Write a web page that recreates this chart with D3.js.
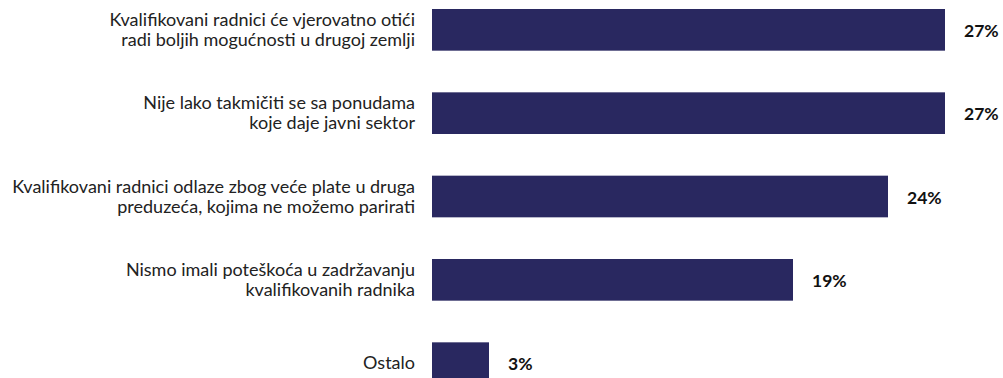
<!DOCTYPE html>
<html>
<head>
<meta charset="utf-8">
<script src="https://cdn.jsdelivr.net/npm/d3@7"></script>
<style>
  html, body { margin: 0; padding: 0; background: #fff; }
  svg { display: block; }
</style>
</head>
<body>
<div id="chart"></div>
<script>
const categories = [
  ["Kvalifikovani radnici će vjerovatno otići", "radi boljih mogućnosti u drugoj zemlji"],
  ["Nije lako takmičiti se sa ponudama", "koje daje javni sektor"],
  ["Kvalifikovani radnici odlaze zbog veće plate u druga", "preduzeća, kojima ne možemo parirati"],
  ["Nismo imali poteškoća u zadržavanju", "kvalifikovanih radnika"],
  ["Ostalo"]
];
const values = [27, 27, 24, 19, 3];
const valueLabels = ["27%", "27%", "24%", "19%", "3%"];

const W = 1003, H = 378;
const svg = d3.select("#chart").append("svg").attr("width", W).attr("height", H);

const idx = d3.range(values.length);
const x = d3.scaleLinear().domain([0, 27]).range([432, 945]);
const y = d3.scaleBand().domain(idx).range([9, 384]).paddingInner(0.5).paddingOuter(0);

const barColor = "#292860";

svg.selectAll("rect.bar").data(idx).join("rect")
  .attr("class", "bar")
  .attr("x", x(0))
  .attr("y", i => y(i))
  .attr("width", i => x(values[i]) - x(0))
  .attr("height", y.bandwidth())
  .attr("fill", barColor);

const lineH = 20;
const lab = svg.selectAll("text.cat").data(idx).join("text")
  .attr("class", "cat")
  .attr("text-anchor", "end")
  .attr("font-family", "Lato, 'Open Sans', sans-serif")
  .attr("font-size", 18)
  .attr("fill", "#222");
lab.each(function(i) {
  const lines = categories[i];
  const cy = y(i) + y.bandwidth() / 2;
  const top = cy - (lines.length - 1) * lineH / 2;
  d3.select(this).selectAll("tspan").data(lines).join("tspan")
    .attr("x", 415)
    .attr("y", (d, j) => top + j * lineH)
    .attr("dy", "0.35em")
    .text(d => d);
});

svg.selectAll("text.val").data(idx).join("text")
  .attr("class", "val")
  .attr("x", i => x(values[i]) + 19)
  .attr("y", i => y(i) + y.bandwidth() / 2 + 1)
  .attr("dy", "0.35em")
  .attr("font-family", "Lato, 'Open Sans', sans-serif")
  .attr("font-weight", "bold")
  .attr("font-size", 17.5)
  .attr("fill", "#111")
  .text(i => valueLabels[i]);
</script>
</body>
</html>
